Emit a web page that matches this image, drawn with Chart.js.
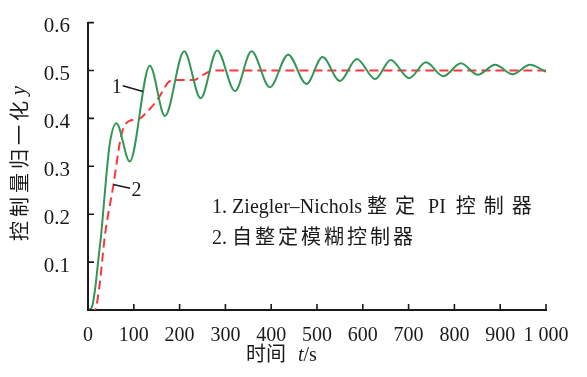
<!DOCTYPE html>
<html>
<head>
<meta charset="utf-8">
<script src="https://cdn.jsdelivr.net/npm/chart.js@4/dist/chart.umd.min.js"></script>
<style>
  html, body { margin: 0; padding: 0; background: #fff; }
  #wrap { width: 587px; height: 377px; }
</style>
</head>
<body>
<div id="wrap"><canvas id="myChart"></canvas></div>
<script>
// 1. Ziegler-Nichols PI (green, oscillating)
const znTime = [0, 8, 15, 22, 30, 40, 48, 62, 91, 135, 168, 210, 246, 282, 321, 357, 397, 437, 477, 512, 550, 587, 627, 661, 701, 738, 776, 814, 851, 889, 927, 965, 1000];
const znValue = [0, 0.005, 0.04, 0.10, 0.17, 0.28, 0.35, 0.39, 0.31, 0.51, 0.405, 0.54, 0.442, 0.542, 0.457, 0.54, 0.465, 0.533, 0.472, 0.528, 0.478, 0.524, 0.482, 0.522, 0.484, 0.517, 0.488, 0.515, 0.491, 0.512, 0.492, 0.512, 0.497];

// 2. self-tuning fuzzy (red dashed)
const fuzzyTime = [0, 15, 25, 37, 55, 73, 87, 114, 125, 142, 157, 175, 190, 230, 250, 266, 290, 1000];
const fuzzyValue = [0, 0, 0.05, 0.156, 0.258, 0.366, 0.393, 0.40, 0.41, 0.427, 0.447, 0.475, 0.48, 0.48, 0.49, 0.498, 0.5, 0.5];

const xTicks = [0, 100, 200, 300, 400, 500, 600, 700, 800, 900, 1000];
const yTicks = [0, 0.1, 0.2, 0.3, 0.4, 0.5, 0.6];

const legendLines = ["1. Ziegler\u2013Nichols 整定 PI  控制器", "2. 自整定模糊控制器"];
const yTitle = "控制量归一化";
const xTitle = "时间";

function toPoints(xs, ys) {
  return xs.map((t, i) => ({ x: t, y: ys[i] }));
}

const serif = '"Liberation Serif", "Noto Sans CJK SC", serif';
const ink = '#1a1a1a';

function isCJK(ch) {
  return /[\u3400-\u9fff]/.test(ch);
}

// draw text char by char, a bit of extra room after CJK glyphs
function drawMixed(ctx, text, x, y, gap) {
  for (const ch of text) {
    ctx.fillText(ch, x, y);
    x += ctx.measureText(ch).width + (isCJK(ch) ? gap : 0);
  }
  return x;
}

const extras = {
  id: 'extras',
  afterDraw(chart) {
    const ctx = chart.ctx;
    const xs = chart.scales.x;
    const ys = chart.scales.y;
    const a = chart.chartArea;
    ctx.save();

    // inward ticks
    ctx.strokeStyle = ink;
    ctx.lineWidth = 1.6;
    ctx.beginPath();
    xTicks.forEach(t => {
      const px = xs.getPixelForValue(t);
      ctx.moveTo(px, a.bottom);
      ctx.lineTo(px, a.bottom - 6);
    });
    yTicks.forEach(v => {
      const py = ys.getPixelForValue(v);
      ctx.moveTo(a.left, py);
      ctx.lineTo(a.left + 6, py);
    });
    ctx.stroke();

    // curve labels with leaders
    const P = (t, v) => [xs.getPixelForValue(t), ys.getPixelForValue(v)];
    ctx.lineWidth = 1.5;
    ctx.beginPath();
    let p = P(76, 0.468); ctx.moveTo(p[0], p[1]);
    p = P(120, 0.456); ctx.lineTo(p[0], p[1]);
    p = P(55, 0.262); ctx.moveTo(p[0], p[1]);
    p = P(92, 0.254); ctx.lineTo(p[0], p[1]);
    ctx.stroke();

    ctx.fillStyle = ink;
    ctx.font = '20px ' + serif;
    ctx.textBaseline = 'middle';
    ctx.textAlign = 'center';
    p = P(62.7, 0.464); ctx.fillText('1', p[0], p[1]);
    p = P(106, 0.248); ctx.fillText('2', p[0], p[1]);

    // legend text
    ctx.textAlign = 'left';
    p = P(271, 0.2135); drawMixed(ctx, legendLines[0], p[0], p[1], 8);
    p = P(271, 0.148); drawMixed(ctx, legendLines[1], p[0], p[1], 3);

    // x title
    let x = drawMixed(ctx, xTitle, 246, 356, 0);
    ctx.font = 'italic 20px ' + serif;
    ctx.fillText('t', x + 12, 356);
    x += 12 + ctx.measureText('t').width;
    ctx.font = '20px ' + serif;
    ctx.fillText('/s', x, 356);

    // y title, rotated
    ctx.translate(22, 241);
    ctx.rotate(-Math.PI / 2);
    x = drawMixed(ctx, yTitle, 0, 0, 4);
    ctx.font = 'italic 20px ' + serif;
    ctx.fillText('y', x + 2, -2);

    ctx.restore();
  }
};

const ctxEl = document.getElementById('myChart');

new Chart(ctxEl, {
  type: 'line',
  data: {
    datasets: [
      {
        data: toPoints(znTime, znValue),
        borderColor: 'rgb(52, 150, 86)',
        borderWidth: 2,
        pointRadius: 0,
        cubicInterpolationMode: 'monotone',
        fill: false
      },
      {
        data: toPoints(fuzzyTime, fuzzyValue),
        borderColor: 'rgb(250, 55, 60)',
        borderWidth: 2,
        borderDash: [9, 5],
        pointRadius: 0,
        cubicInterpolationMode: 'monotone',
        fill: false
      }
    ]
  },
  options: {
    responsive: true,
    maintainAspectRatio: false,
    animation: false,
    layout: { padding: { top: 15, right: 41, left: 0, bottom: 0 } },
    scales: {
      x: {
        type: 'linear',
        min: 0,
        max: 1000,
        afterFit: s => { s.height = 67; },
        afterBuildTicks: s => { s.ticks = xTicks.map(v => ({ value: v })); },
        grid: { display: false },
        border: { display: true, color: ink, width: 2 },
        ticks: {
          color: ink,
          padding: 6,
          autoSkip: false,
          maxRotation: 0,
          font: { family: serif, size: 20 },
          callback: v => v === 1000 ? '1 000' : String(v)
        }
      },
      y: {
        min: 0,
        max: 0.6,
        afterFit: s => { s.width = 88; },
        afterBuildTicks: s => { s.ticks = yTicks.map(v => ({ value: v })); },
        grid: { display: false },
        border: { display: true, color: ink, width: 2 },
        ticks: {
          color: ink,
          padding: 10,
          labelOffset: 4,
          font: { family: serif, size: 21 },
          callback: v => v === 0 ? '' : v.toFixed(1)
        }
      }
    },
    plugins: {
      legend: { display: false },
      title: { display: false },
      tooltip: { enabled: false }
    }
  },
  plugins: [extras]
});
</script>
</body>
</html>
